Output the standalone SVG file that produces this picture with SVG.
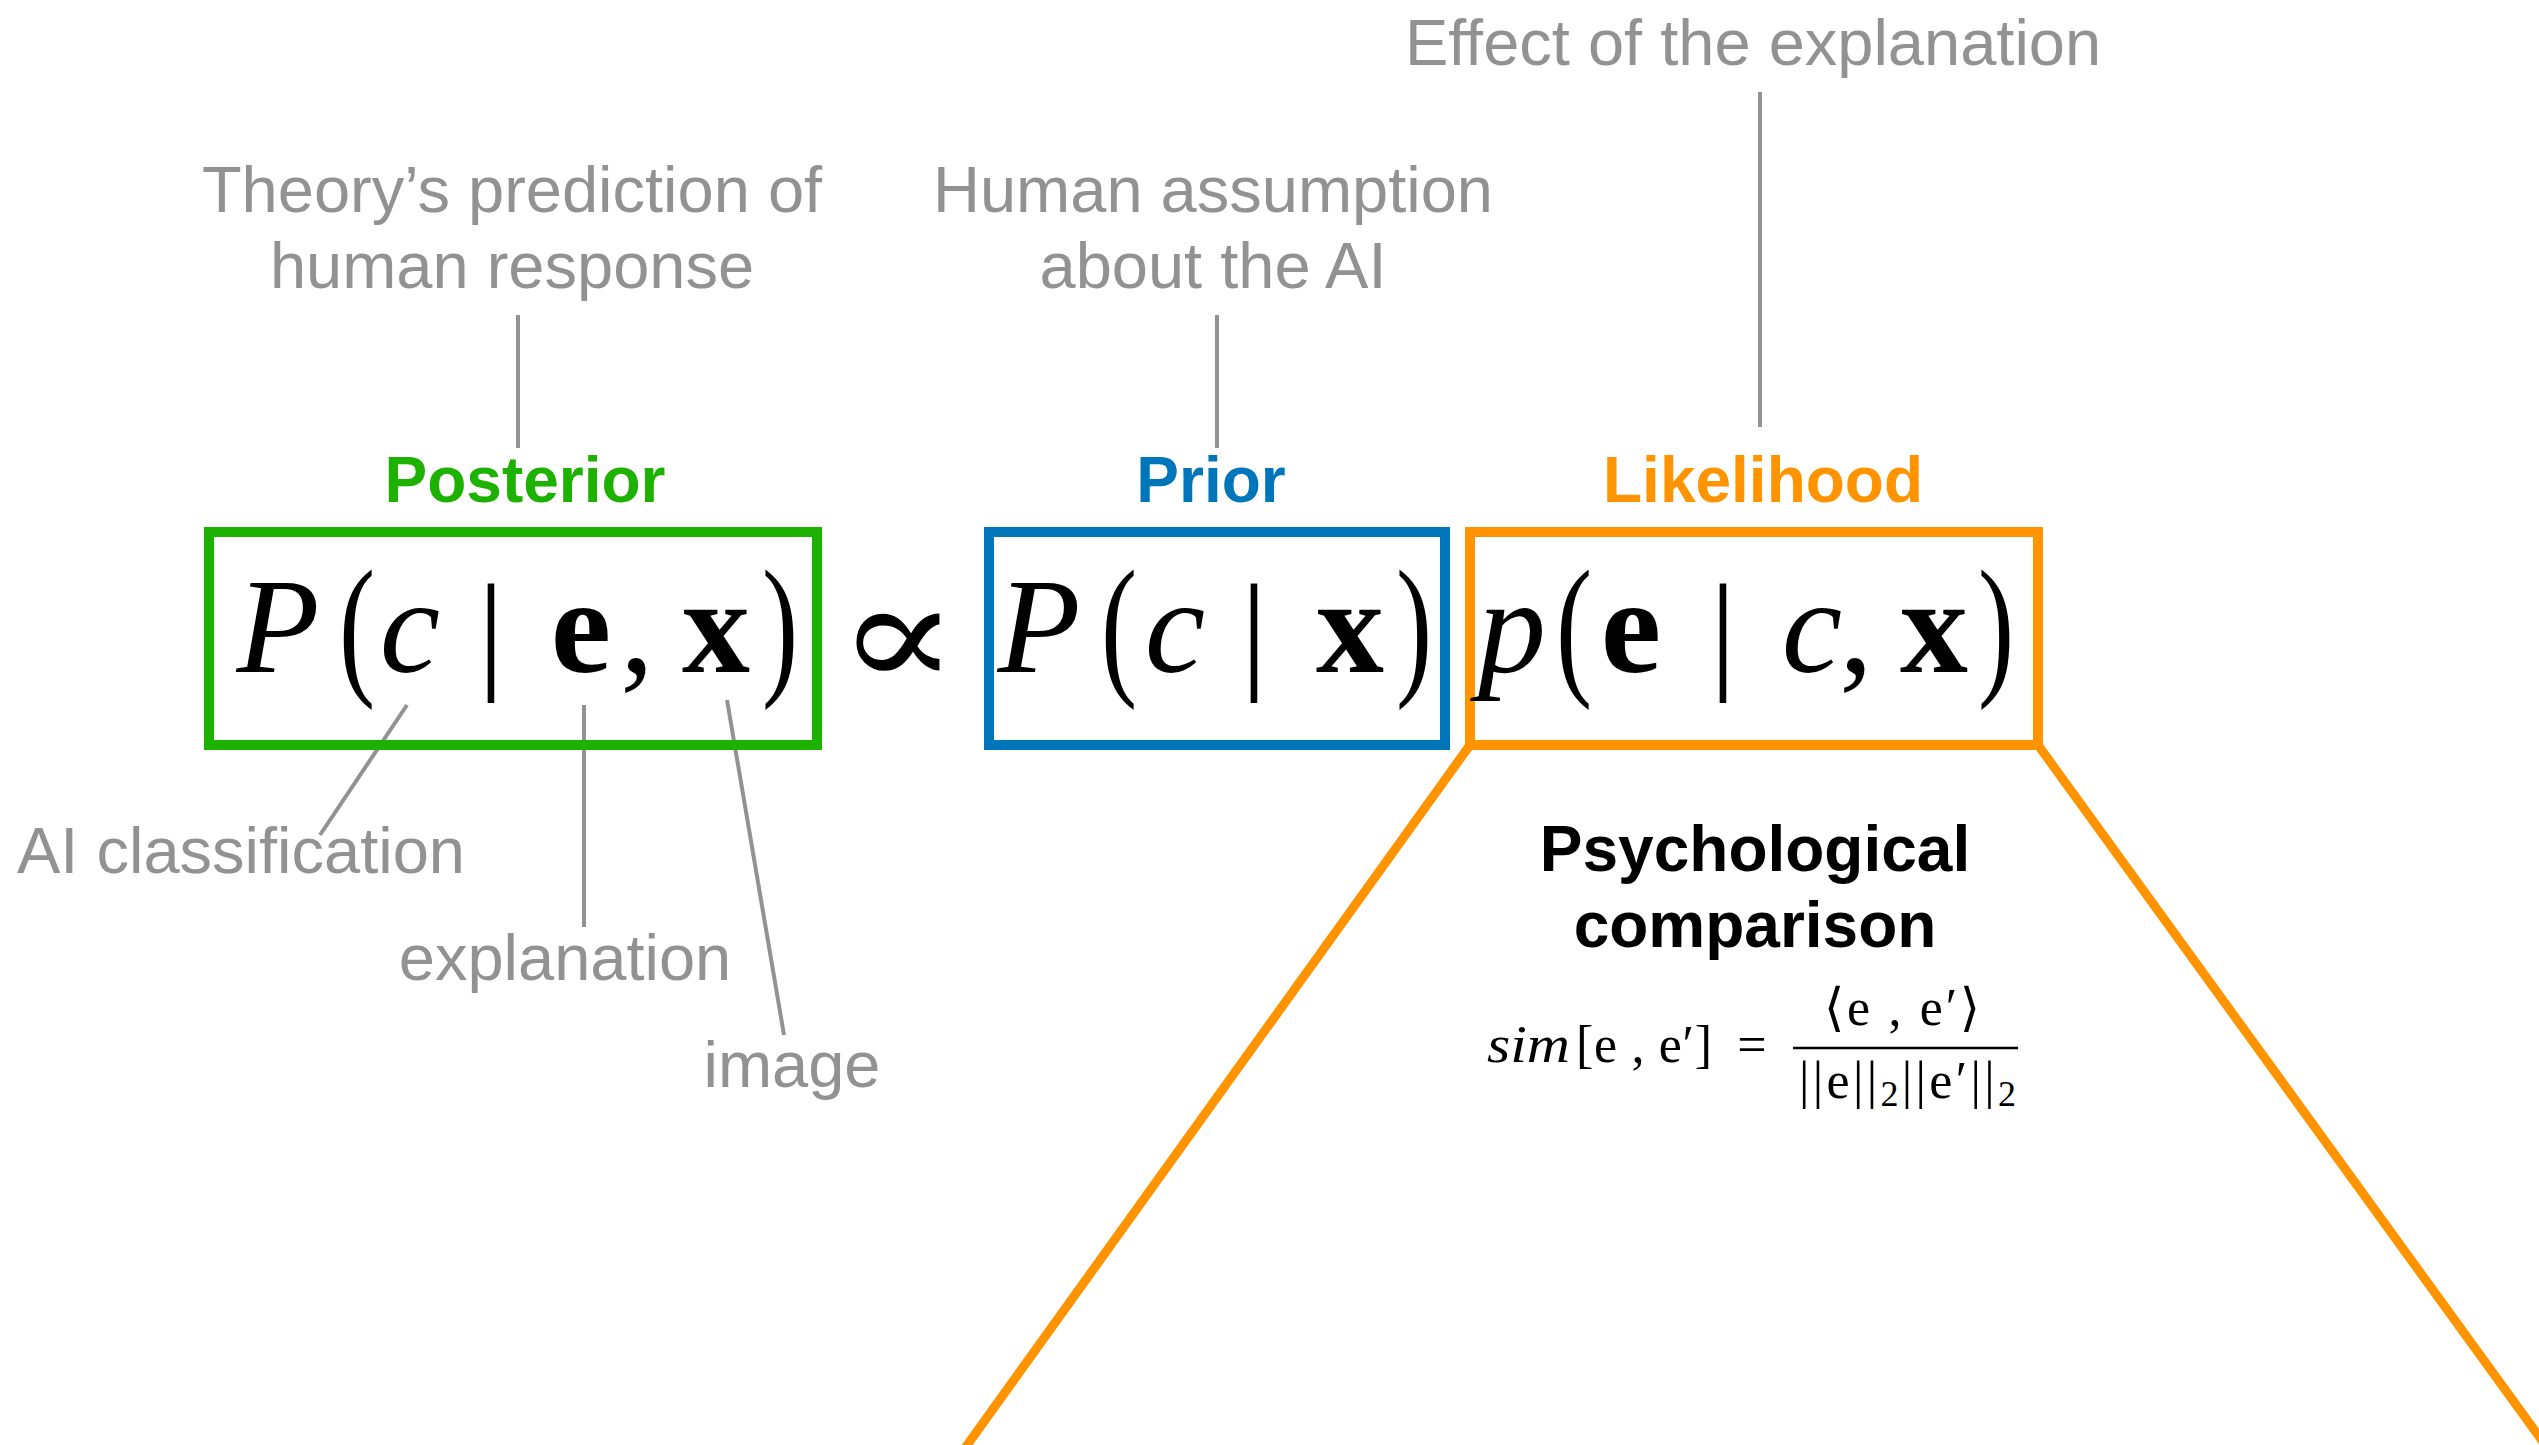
<svg xmlns="http://www.w3.org/2000/svg" width="2539" height="1445" viewBox="0 0 2539 1445">
<style>
.lbl{font-family:"Liberation Sans",Arial,sans-serif;font-size:65px;fill:#929292;text-anchor:middle}
.hdr{font-family:"Liberation Sans",Arial,sans-serif;font-weight:bold;font-size:64px;text-anchor:middle}
.m{font-family:"Liberation Serif","DejaVu Serif",serif;font-size:136px;text-anchor:middle;fill:#000}
.i{font-style:italic}
.b{font-weight:bold}
.par{font-size:155px}
.bar{font-size:132px}
.f{font-family:"Liberation Serif","DejaVu Serif",serif;font-size:52px;fill:#000}
.lead{stroke:#929292;stroke-width:4;fill:none}
.box{fill:none;stroke-width:10}
</style>
<rect width="2539" height="1445" fill="#fff"/>
<g id="connectors">
<line class="lead" x1="518" y1="315" x2="518" y2="448"/>
<line class="lead" x1="1217" y1="315" x2="1217" y2="448"/>
<line class="lead" x1="1760" y1="92" x2="1760" y2="427"/>
<line class="lead" x1="407" y1="705" x2="320" y2="835"/>
<line class="lead" x1="584" y1="705" x2="584" y2="927"/>
<line class="lead" x1="727" y1="700" x2="784" y2="1035"/>
<path d="M1470 745 L960 1455 M2038 745 L2551 1453" stroke="#FF9300" stroke-width="9" fill="none"/>
</g>
<g id="posterior">
<rect class="box" x="209" y="532" width="608" height="213" stroke="#1DB100"/>
<text class="hdr" x="525" y="502" fill="#1DB100">Posterior</text>
<text class="m i" x="278" y="672">P</text>
<text class="m par" transform="translate(357,677) scale(0.7,1)">(</text>
<text class="m i" x="410" y="672">c</text>
<text class="m bar" x="491" y="675">|</text>
<text class="m b" x="581" y="672">e</text>
<text class="m" x="637" y="672">,</text>
<text class="m b" x="716" y="672">x</text>
<text class="m par" transform="translate(780,677) scale(0.7,1)">)</text>
</g>
<g id="propto">
<text class="m" transform="translate(898,687) scale(1.5,1.25)" style="font-size:120px">∝</text>
</g>
<g id="prior">
<rect class="box" x="989" y="532" width="456" height="213" stroke="#0076BA"/>
<text class="hdr" x="1211" y="502" fill="#0076BA">Prior</text>
<text class="m i" x="1039" y="672">P</text>
<text class="m par" transform="translate(1119,677) scale(0.7,1)">(</text>
<text class="m i" x="1175" y="672">c</text>
<text class="m bar" x="1254" y="675">|</text>
<text class="m b" x="1350" y="672">x</text>
<text class="m par" transform="translate(1414,677) scale(0.7,1)">)</text>
</g>
<g id="likelihood">
<rect class="box" x="1470" y="532" width="568" height="213" stroke="#FF9300"/>
<text class="hdr" x="1763" y="502" fill="#FF9300">Likelihood</text>
<text class="m i" x="1512" y="672">p</text>
<text class="m par" transform="translate(1574,677) scale(0.7,1)">(</text>
<text class="m b" x="1631" y="672">e</text>
<text class="m bar" x="1723" y="675">|</text>
<text class="m i" x="1812" y="672">c</text>
<text class="m" x="1856" y="672">,</text>
<text class="m b" x="1934" y="672">x</text>
<text class="m par" transform="translate(1996,677) scale(0.7,1)">)</text>
</g>
<g id="label-posterior">
<text class="lbl" x="512" y="212">Theory’s prediction of</text>
<text class="lbl" x="512" y="288">human response</text>
</g>
<g id="label-prior">
<text class="lbl" x="1213" y="212">Human assumption</text>
<text class="lbl" x="1213" y="288">about the AI</text>
</g>
<g id="label-likelihood">
<text class="lbl" x="1753" y="65">Effect of the explanation</text>
</g>
<g id="label-c"><text class="lbl" x="241" y="873">AI classification</text></g>
<g id="label-e"><text class="lbl" x="565" y="980">explanation</text></g>
<g id="label-x"><text class="lbl" x="792" y="1087">image</text></g>
<g id="comparison">
<text class="hdr" x="1755" y="871" fill="#000">Psychological</text>
<text class="hdr" x="1755" y="947" fill="#000">comparison</text>
<text class="f i" x="1487" y="1062" textLength="83" lengthAdjust="spacingAndGlyphs">sim</text>
<text class="f" x="1576" y="1062" textLength="136" lengthAdjust="spacing">[e , e′]</text>
<text class="f" x="1752" y="1062" text-anchor="middle">=</text>
<line x1="1793" y1="1048" x2="2018" y2="1048" stroke="#000" stroke-width="2.5"/>
<text class="f" x="1824" y="1025" textLength="156" lengthAdjust="spacing">⟨e , e′⟩</text>
<text class="f" x="1799" y="1098" textLength="217" lengthAdjust="spacing">||e||<tspan font-size="36" dy="8">2</tspan><tspan dy="-8">||e′||</tspan><tspan font-size="36" dy="8">2</tspan></text>
</g>
</svg>
